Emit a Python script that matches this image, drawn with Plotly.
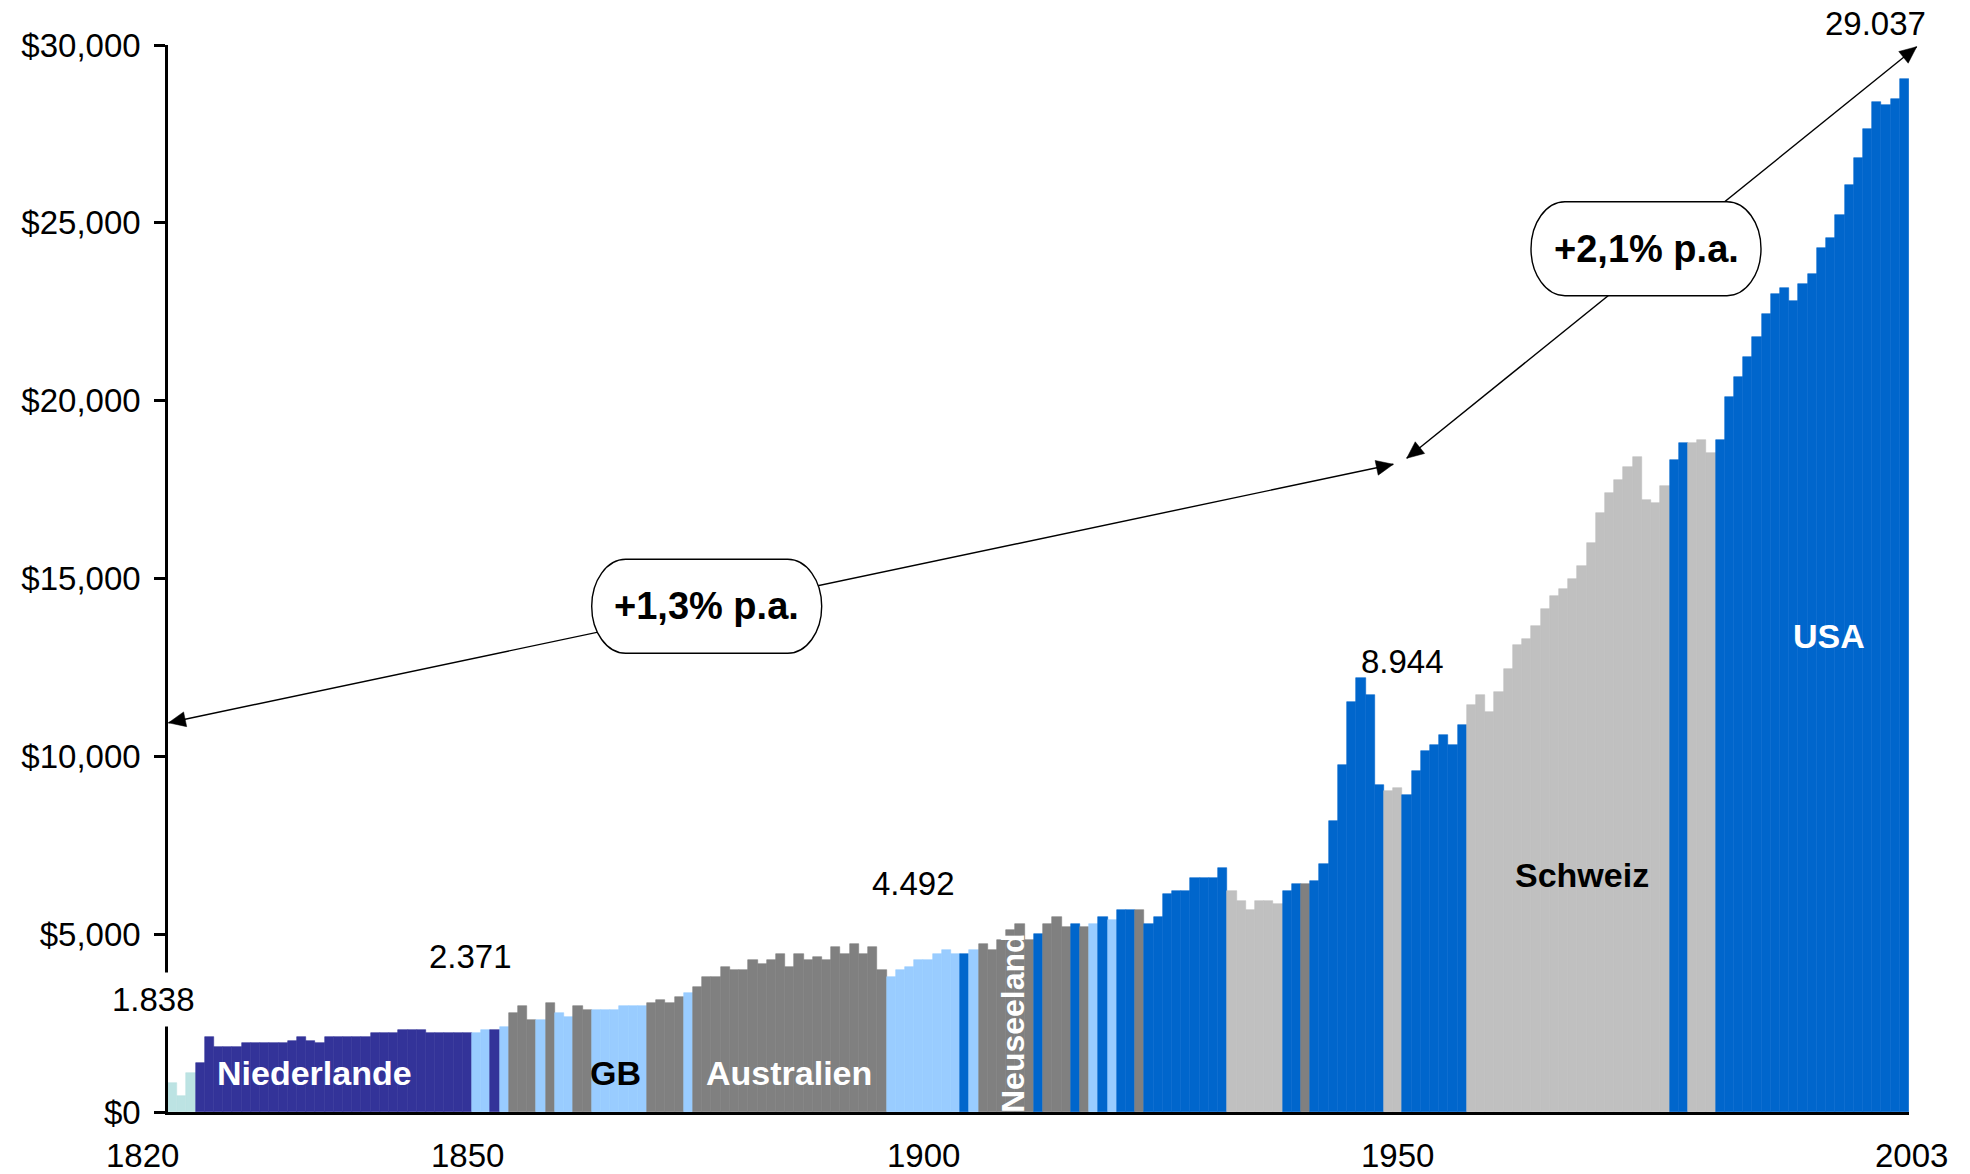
import math
import plotly.graph_objects as go

# ---------------- data ----------------
values = [
    810, 450, 1090,
    1370, 2110, 1840, 1840, 1840, 1930, 1930, 1930, 1930, 1930,
    2010, 2100, 2010, 1930, 2100, 2100, 2100, 2100, 2100,
    2210, 2210, 2210, 2300, 2300, 2300, 2210, 2210, 2210, 2210, 2210,
    2230, 2300, 2300, 2390, 2790, 2980, 2590, 2590, 3060,
    2780, 2660, 2980, 2870, 2870, 2870, 2870, 2980, 2980, 2980,
    3060, 3150, 3060, 3240, 3340, 3520, 3800, 3800, 4090, 3990,
    3990, 4270, 4160, 4270, 4440, 4090, 4440, 4270, 4350, 4270,
    4630, 4440, 4720, 4440, 4630, 3990, 3800, 3990, 4090, 4270,
    4270, 4440, 4550, 4440,
    4440, 4550, 4720, 4550, 4840, 5120, 5290, 4840, 5000, 5290,
    5480, 5210, 5290, 5210, 5290, 5480, 5400, 5680, 5680, 5680,
    5290, 5480, 6130, 6210, 6210, 6570, 6570, 6570, 6850, 6210,
    5930, 5680, 5930, 5930, 5850, 6210, 6410, 6410,
    6500, 6970, 8180, 9760, 11530, 12190, 11720, 9190, 9020, 9110,
    8910, 9590, 10150, 10320, 10600, 10320, 10880, 11440, 11720, 11250,
    11820, 12450, 13130,
    13300, 13660, 14140, 14510, 14700, 14990, 15350, 16000, 16840, 17400,
    17770, 18130, 18410, 17210, 17120, 17600, 18330, 18810, 18810, 18890,
    18530, 18890,
    20110, 20670, 21230, 21800, 22450, 23000, 23170, 22810, 23280, 23560,
    24290, 24570, 25220, 26060, 26820, 27640, 28400, 28310, 28480, 29040,
]

leaders = (
    ["SO"] * 3
    + ["NL"] * 30
    + ["GB", "GB", "NL", "GB", "AU", "AU", "AU", "GB", "AU"]
    + ["GB", "GB", "AU", "AU"] + ["GB"] * 6 + ["AU"] * 4 + ["GB"] + ["AU"] * 21 + ["GB"] * 8
    + ["US", "GB"] + ["NZ"] * 6 + ["US"] + ["NZ"] * 3 + ["US", "NZ", "GB", "US", "GB", "US", "US", "NZ"]
    + ["US"] * 9 + ["CH"] * 6 + ["US", "US", "NZ"]
    + ["US"] * 8 + ["CH"] * 2 + ["US"] * 7 + ["CH"] * 6
    + ["CH"] * 16 + ["US"] * 2 + ["CH"] * 3 + ["US"]
    + ["US"] * 20
)

country_colors = {
    "SO": "#BCE3E3",
    "NL": "#333399",
    "GB": "#99CCFF",
    "AU": "#808080",
    "NZ": "#808080",
    "US": "#0066CC",
    "CH": "#C0C0C0",
}

x_tick_labels = ["1820", "1850", "1900", "1950", "2003"]
x_tick_bars = [0, 32, 82, 133, 188]

y_tick_vals = [0, 5000, 10000, 15000, 20000, 25000, 30000]
y_tick_text = ["$0", "$5,000", "$10,000", "$15,000", "$20,000", "$25,000", "$30,000"]

value_labels = ["1.838", "2.371", "4.492", "8.944", "29.037"]
country_labels = ["Niederlande", "GB", "Australien", "Neuseeland", "Schweiz", "USA"]
growth_labels = ["+1,3% p.a.", "+2,1% p.a."]

# ---------------- layout geometry ----------------
W, H = 1970, 1174
ML, MR, MT, MB = 168, 61, 45, 62
PW, PH = W - ML - MR, H - MT - MB
FONT = "Liberation Sans, Arial, Helvetica, sans-serif"


def fx(px):
    return (px - ML) / PW


def fy(py):
    return (H - MB - py) / PH


bar_x = list(range(len(values)))
bar_colors = [country_colors[c] for c in leaders]

fig = go.Figure()
fig.add_trace(go.Bar(
    x=bar_x, y=values,
    marker=dict(color=bar_colors, line=dict(color=bar_colors, width=0.6)),
    width=1.0, hoverinfo="skip",
))

annotations = []

# x tick labels (placed like the reference, partly outside the plot area)
x_shifts = [-30, 0, -4, 0, 7]
for lab, b, s in zip(x_tick_labels, x_tick_bars, x_shifts):
    annotations.append(dict(x=b, y=0, xref="x", yref="paper", text=lab, showarrow=False,
                            xshift=s, yshift=-43, font=dict(size=33, color="black", family=FONT),
                            xanchor="center", yanchor="middle"))

# value labels
val_pos = [(153, 999), (470, 956), (913, 883), (1402, 661), (1875, 24)]
for i, (lab, (px, py)) in enumerate(zip(value_labels, val_pos)):
    a = dict(x=fx(px), y=fy(py), xref="paper", yref="paper", text=lab, showarrow=False,
             font=dict(size=33, color="black", family=FONT), xanchor="center", yanchor="middle")
    if i == 0:
        a.update(bgcolor="white", borderpad=8)
    annotations.append(a)

# country labels
ctry_pos = [(314, 1073, "white", 0), (615, 1073, "black", 0), (789, 1073, "white", 0),
            (1013, 1023, "white", -90), (1582, 875, "black", 0), (1829, 636, "white", 0)]
for lab, (px, py, col, ang) in zip(country_labels, ctry_pos):
    annotations.append(dict(x=fx(px), y=fy(py), xref="paper", yref="paper",
                            text="<b>" + lab + "</b>", showarrow=False, textangle=ang,
                            font=dict(size=34 if ang == 0 else 32, color=col, family=FONT),
                            xanchor="center", yanchor="middle"))

# growth boxes + arrows
box_centers = [(706.7, 606.3), (1646.0, 248.7)]
arrow_ends = [((168.5, 722.8), (1393.3, 464.3)), ((1406.7, 458.3), (1916.7, 46.7))]

shapes = []


def pstr(pts):
    return " ".join(f"{fx(x):.6f},{fy(y):.6f}" for x, y in pts)


def head_path(tip, tail, length=17.0, hw=7.5):
    dx, dy = tip[0] - tail[0], tip[1] - tail[1]
    d = math.hypot(dx, dy)
    ux, uy = dx / d, dy / d
    bx, by = tip[0] - ux * length, tip[1] - uy * length
    nx, ny = -uy, ux
    p1 = (bx + nx * hw, by + ny * hw)
    p2 = (bx - nx * hw, by - ny * hw)
    return f"M {pstr([tip])} L {pstr([p1])} L {pstr([p2])} Z"


def stadium_path(cx, cy, hw=115.0, hh=47.0, rx=34.0):
    k = 0.5523
    P = lambda x, y: pstr([(x, y)])
    return (
        f"M {P(cx - hw + rx, cy - hh)} L {P(cx + hw - rx, cy - hh)} "
        f"C {P(cx + hw - rx + k * rx, cy - hh)} {P(cx + hw, cy - k * hh)} {P(cx + hw, cy)} "
        f"C {P(cx + hw, cy + k * hh)} {P(cx + hw - rx + k * rx, cy + hh)} {P(cx + hw - rx, cy + hh)} "
        f"L {P(cx - hw + rx, cy + hh)} "
        f"C {P(cx - hw + rx - k * rx, cy + hh)} {P(cx - hw, cy + k * hh)} {P(cx - hw, cy)} "
        f"C {P(cx - hw, cy - k * hh)} {P(cx - hw + rx - k * rx, cy - hh)} {P(cx - hw + rx, cy - hh)} Z"
    )


for (a, b) in arrow_ends:
    shapes.append(dict(type="line", xref="paper", yref="paper", x0=fx(a[0]), y0=fy(a[1]),
                       x1=fx(b[0]), y1=fy(b[1]), line=dict(color="black", width=1.4), layer="above"))
    shapes.append(dict(type="path", xref="paper", yref="paper", path=head_path(a, b),
                       fillcolor="black", line=dict(color="black", width=0.5), layer="above"))
    shapes.append(dict(type="path", xref="paper", yref="paper", path=head_path(b, a),
                       fillcolor="black", line=dict(color="black", width=0.5), layer="above"))

for (cx, cy), lab in zip(box_centers, growth_labels):
    shapes.append(dict(type="path", xref="paper", yref="paper", path=stadium_path(cx, cy),
                       fillcolor="white", line=dict(color="black", width=1.4), layer="above"))
    annotations.append(dict(x=fx(cx), y=fy(cy), xref="paper", yref="paper",
                            text="<b>" + lab + "</b>", showarrow=False,
                            font=dict(size=38, color="black", family=FONT),
                            xanchor="center", yanchor="middle"))

fig.update_layout(
    width=W, height=H,
    margin=dict(l=ML, r=MR, t=MT, b=MB, pad=0, autoexpand=False),
    plot_bgcolor="white", paper_bgcolor="white",
    showlegend=False, bargap=0,
    font=dict(family=FONT, size=33, color="black"),
    annotations=annotations, shapes=shapes,
)
fig.update_xaxes(range=[-0.5, len(values) - 0.5], showline=True, linecolor="black", linewidth=2.5,
                 showticklabels=False, ticks="", showgrid=False, zeroline=False, automargin=False)
fig.update_yaxes(range=[0, 30000], tickvals=y_tick_vals, ticktext=y_tick_text,
                 showline=True, linecolor="black", linewidth=2.5,
                 ticks="outside", ticklen=11, tickwidth=2.5, tickcolor="black",
                 ticklabelstandoff=7, tickfont=dict(size=33, family=FONT, color="black"),
                 showgrid=False, zeroline=False, automargin=False)

fig.write_html("out.html", config={"displayModeBar": False},
               post_script="document.body.style.margin='0px';document.body.style.overflow='hidden';")
